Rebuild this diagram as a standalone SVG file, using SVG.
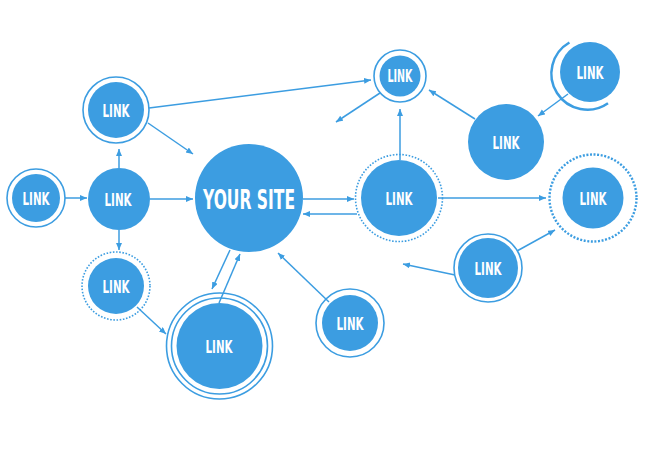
<svg xmlns="http://www.w3.org/2000/svg" width="650" height="450" viewBox="0 0 650 450">
<defs>
<marker id="ah" markerUnits="userSpaceOnUse" markerWidth="8" markerHeight="7" refX="7" refY="3" orient="auto">
<path d="M0,0 L7,3 L0,6 z" fill="#3c9de1"/>
</marker>
<style>
.fill{fill:#3c9de1}
.ring{fill:none;stroke:#3c9de1;stroke-width:1.6}
.dot{fill:none;stroke:#3c9de1;stroke-width:1.6;stroke-dasharray:1.6 1.6}
.dot2{fill:none;stroke:#3c9de1;stroke-width:2.4;stroke-dasharray:2 1.6}
.arc{fill:none;stroke:#3c9de1;stroke-width:2.5}
.c{stroke:#3c9de1;stroke-width:1.5;fill:none;marker-end:url(#ah)}
.t{fill:#fff;font-family:"Liberation Sans Narrow","DejaVu Sans Condensed","Liberation Sans",sans-serif;font-weight:bold;font-size:18px;text-anchor:middle}
.big{font-size:27px}
</style>
</defs>
<rect width="650" height="450" fill="#fff"/>
<g id="connectors">
<line class="c" x1="65" y1="198" x2="87" y2="198"/>
<line class="c" x1="150" y1="199" x2="193" y2="199"/>
<line class="c" x1="119" y1="168" x2="119" y2="149"/>
<line class="c" x1="119" y1="230" x2="119" y2="250"/>
<line class="c" x1="149" y1="108" x2="371" y2="80"/>
<line class="c" x1="148" y1="123" x2="193" y2="154"/>
<line class="c" x1="380" y1="93" x2="336" y2="122"/>
<line class="c" x1="400" y1="160" x2="400" y2="109"/>
<line class="c" x1="475" y1="119" x2="429" y2="90"/>
<line class="c" x1="568" y1="94" x2="538" y2="116"/>
<line class="c" x1="303" y1="199" x2="354" y2="199"/>
<line class="c" x1="357" y1="214" x2="303" y2="214"/>
<line class="c" x1="438" y1="198" x2="546" y2="198"/>
<line class="c" x1="517" y1="251" x2="555" y2="230"/>
<line class="c" x1="455" y1="275" x2="403" y2="264"/>
<line class="c" x1="137" y1="307" x2="166" y2="334"/>
<line class="c" x1="230" y1="250" x2="212" y2="289"/>
<line class="c" x1="219" y1="303" x2="240" y2="254"/>
<line class="c" x1="329" y1="302" x2="278" y2="253"/>
</g>
<g id="n1"><circle class="ring" cx="36" cy="198" r="29"/><circle class="fill" cx="36" cy="198" r="24"/><text class="t" x="36" y="204.5" textLength="27" lengthAdjust="spacingAndGlyphs">LINK</text></g>
<g id="n2"><circle class="fill" cx="119" cy="199" r="31"/><text class="t" x="118" y="206" textLength="27" lengthAdjust="spacingAndGlyphs">LINK</text></g>
<g id="n3"><circle class="ring" cx="116" cy="110" r="33"/><circle class="fill" cx="116" cy="110" r="28"/><text class="t" x="116" y="116.5" textLength="27" lengthAdjust="spacingAndGlyphs">LINK</text></g>
<g id="site"><circle class="fill" cx="249" cy="198" r="54"/><text class="t big" x="249" y="209" textLength="92" lengthAdjust="spacingAndGlyphs">YOUR SITE</text></g>
<g id="n5"><circle class="ring" cx="400" cy="76" r="26"/><circle class="fill" cx="400" cy="76" r="20.5"/><text class="t" x="400" y="82" textLength="25" lengthAdjust="spacingAndGlyphs">LINK</text></g>
<g id="n6"><path class="arc" d="M608,103.2 A36,36 0 1 1 569.4,42.5"/><circle class="fill" cx="590" cy="72" r="30"/><text class="t" x="590" y="78.5" textLength="27" lengthAdjust="spacingAndGlyphs">LINK</text></g>
<g id="n7"><circle class="fill" cx="506" cy="142" r="38"/><text class="t" x="506" y="148.5" textLength="27" lengthAdjust="spacingAndGlyphs">LINK</text></g>
<g id="n8"><circle class="dot" cx="399" cy="198" r="43.5"/><circle class="fill" cx="399" cy="198" r="38"/><text class="t" x="399" y="204.5" textLength="27" lengthAdjust="spacingAndGlyphs">LINK</text></g>
<g id="n9"><circle class="dot2" cx="593" cy="198" r="43.5"/><circle class="fill" cx="593" cy="198" r="30.5"/><text class="t" x="593" y="204.5" textLength="27" lengthAdjust="spacingAndGlyphs">LINK</text></g>
<g id="n10"><circle class="ring" cx="488" cy="268" r="34"/><circle class="fill" cx="488" cy="268" r="30"/><text class="t" x="488" y="274.5" textLength="27" lengthAdjust="spacingAndGlyphs">LINK</text></g>
<g id="n11"><circle class="dot" cx="116" cy="286" r="34"/><circle class="fill" cx="116" cy="286" r="28"/><text class="t" x="116" y="292.5" textLength="27" lengthAdjust="spacingAndGlyphs">LINK</text></g>
<g id="n12"><circle class="ring" cx="219.5" cy="346" r="53"/><circle class="ring" cx="219.5" cy="346" r="48"/><circle class="fill" cx="219.5" cy="346" r="43"/><text class="t" x="219" y="352.5" textLength="27" lengthAdjust="spacingAndGlyphs">LINK</text></g>
<g id="n13"><circle class="ring" cx="350" cy="323" r="34"/><circle class="fill" cx="350" cy="323" r="28"/><text class="t" x="350" y="329.5" textLength="27" lengthAdjust="spacingAndGlyphs">LINK</text></g>
</svg>
